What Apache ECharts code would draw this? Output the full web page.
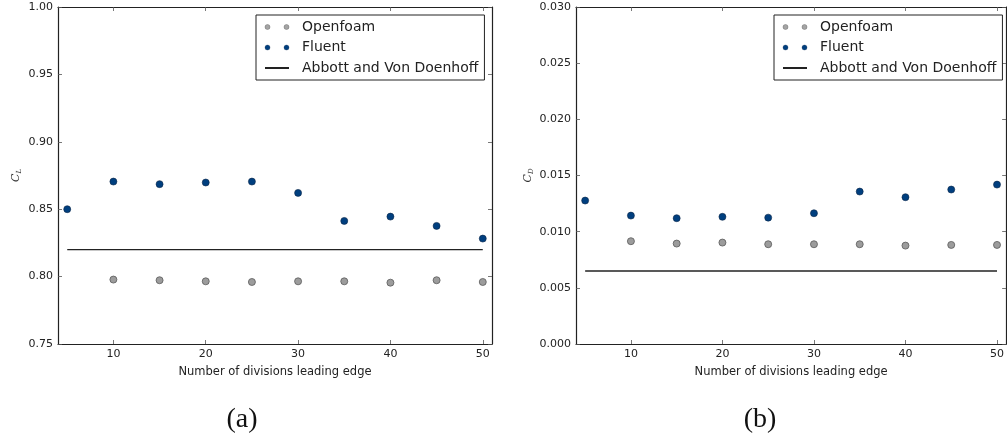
<!DOCTYPE html>
<html>
<head>
<meta charset="utf-8">
<script src="https://cdn.jsdelivr.net/npm/echarts@6/dist/echarts.min.js"></script>
<style>
  html, body { margin: 0; padding: 0; background: #fff; }
  #chart { width: 1007px; height: 440px; }
</style>
</head>
<body>
<div id="chart"></div>
<script>
// Mesh refinement study: lift and drag coefficients vs leading-edge divisions
const fluentDivisions   = [5, 10, 15, 20, 25, 30, 35, 40, 45, 50];
const openfoamDivisions = [10, 15, 20, 25, 30, 35, 40, 45, 50];
const abbottSpan        = [5, 50];

const fluentCL   = [0.8500, 0.8705, 0.8686, 0.8698, 0.8705, 0.8621, 0.8413, 0.8445, 0.8376, 0.8282];
const openfoamCL = [0.7978, 0.7973, 0.7965, 0.7960, 0.7965, 0.7965, 0.7955, 0.7973, 0.7960];
const abbottCL   = [0.82, 0.82];

const fluentCD   = [0.01277, 0.01143, 0.01120, 0.01132, 0.01125, 0.01164, 0.01357, 0.01307, 0.01375, 0.01419];
const openfoamCD = [0.00915, 0.00894, 0.00903, 0.00888, 0.00888, 0.00888, 0.00876, 0.00882, 0.00882];
const abbottCD   = [0.0065, 0.0065];

const xTicks = [10, 20, 30, 40, 50];
const panelLabels = ['(a)', '(b)'];

const SANS = 'DejaVu Sans';
const INK = '#222';
const zip = (xs, ys) => xs.map((x, i) => [x, ys[i]]);

const panels = [
  { left: 58,  yMin: 0.75, yMax: 1.00, yStep: 0.05,  digits: 2, sub: 'L', gap: 35,
    fluent: fluentCL, openfoam: openfoamCL, abbott: abbottCL, legendLeft: 256, labelX: 242 },
  { left: 576, yMin: 0,    yMax: 0.030, yStep: 0.005, digits: 3, sub: 'D', gap: 41,
    fluent: fluentCD, openfoam: openfoamCD, abbott: abbottCD, legendLeft: 774, labelX: 760 }
];

const grids = [], xAxes = [], yAxes = [], series = [], legends = [], graphics = [];

const frameLine = { show: true, onZero: false, lineStyle: { color: INK, width: 1.2 } };
const innerTick = { show: true, inside: true, length: 4, lineStyle: { color: '#555', width: 0.8 } };

// legend glyph: two small dots side by side
const twoDots = 'path://M0,2.5a2.5,2.5 0 1,0 5,0a2.5,2.5 0 1,0 -5,0zM19,2.5a2.5,2.5 0 1,0 5,0a2.5,2.5 0 1,0 -5,0z';

panels.forEach((p, i) => {
  grids.push({ left: p.left, top: 7, width: 434, height: 337, containLabel: false });

  const xBase = { type: 'value', gridIndex: i, min: 4, max: 51, splitLine: { show: false },
                  axisLine: frameLine };
  xAxes.push(Object.assign({}, xBase, {
    position: 'bottom',
    axisTick: Object.assign({}, innerTick, { customValues: xTicks }),
    axisLabel: { customValues: xTicks, margin: 5, fontFamily: SANS, fontSize: 11, color: INK },
    name: 'Number of divisions leading edge', nameLocation: 'middle', nameGap: 22,
    nameTextStyle: { fontFamily: SANS, fontSize: 11.5, color: INK }
  }));
  xAxes.push(Object.assign({}, xBase, {
    position: 'top',
    axisTick: Object.assign({}, innerTick, { customValues: xTicks }),
    axisLabel: { show: false }
  }));

  const yBase = { type: 'value', gridIndex: i, min: p.yMin, max: p.yMax, interval: p.yStep,
                  splitLine: { show: false }, axisLine: frameLine, axisTick: innerTick };
  yAxes.push(Object.assign({}, yBase, {
    position: 'left',
    axisLabel: { margin: 5, fontFamily: SANS, fontSize: 11, color: INK,
                 formatter: v => v.toFixed(p.digits) },
    name: '{c|C}{s|' + p.sub + '}', nameLocation: 'middle', nameRotate: 90, nameGap: p.gap,
    nameTextStyle: {
      rich: {
        c: { fontFamily: 'DejaVu Serif', fontStyle: 'italic', fontSize: 11, color: '#333', lineHeight: 14 },
        s: { fontFamily: 'DejaVu Serif', fontStyle: 'italic', fontSize: 7, color: '#333',
             lineHeight: 8, verticalAlign: 'bottom' }
      }
    }
  }));
  yAxes.push(Object.assign({}, yBase, { position: 'right', axisLabel: { show: false } }));

  const xi = i * 2, yi = i * 2;
  series.push({
    name: 'Openfoam', type: 'scatter', xAxisIndex: xi, yAxisIndex: yi,
    data: zip(openfoamDivisions, p.openfoam), symbolSize: 7,
    itemStyle: { color: '#9c9c9c', borderColor: '#5a5a5a', borderWidth: 0.8, opacity: 1 }
  });
  series.push({
    name: 'Fluent', type: 'scatter', xAxisIndex: xi, yAxisIndex: yi,
    data: zip(fluentDivisions, p.fluent), symbolSize: 7,
    itemStyle: { color: '#003f7f', borderColor: '#0a2546', borderWidth: 0.6, opacity: 1 }
  });
  series.push({
    name: 'Abbott and Von Doenhoff', type: 'line', xAxisIndex: xi, yAxisIndex: yi,
    data: zip(abbottSpan, p.abbott), symbol: 'none',
    itemStyle: { color: 'rgba(0,0,0,0)', borderWidth: 0 },
    lineStyle: { color: INK, width: 1.3 }
  });

  legends.push({
    orient: 'vertical', left: p.legendLeft, top: 15,
    itemWidth: 24, itemHeight: 5, itemGap: 6.5,
    padding: [5, 6, 5, 8], borderColor: INK, borderWidth: 1, borderRadius: 0,
    backgroundColor: '#fff', selectedMode: false,
    textStyle: { fontFamily: SANS, fontSize: 14, color: INK, padding: [0, 0, 0, 8] },
    data: [
      { name: 'Openfoam', icon: twoDots, itemStyle: { borderWidth: 0.4, color: '#a4a4a4' } },
      { name: 'Fluent', icon: twoDots, itemStyle: { borderWidth: 0.3 } },
      { name: 'Abbott and Von Doenhoff', itemStyle: { opacity: 0 } }
    ]
  });

  graphics.push({
    type: 'text', x: p.labelX, y: 420,
    style: { text: panelLabels[i], fill: '#111', font: '28px "Liberation Serif"',
             textAlign: 'center', textVerticalAlign: 'middle' }
  });
});

const chart = echarts.init(document.getElementById('chart'), null, { renderer: 'canvas' });
chart.setOption({
  animation: false,
  backgroundColor: '#fff',
  grid: grids,
  xAxis: xAxes,
  yAxis: yAxes,
  legend: legends,
  series: series,
  graphic: graphics
});
</script>
</body>
</html>
